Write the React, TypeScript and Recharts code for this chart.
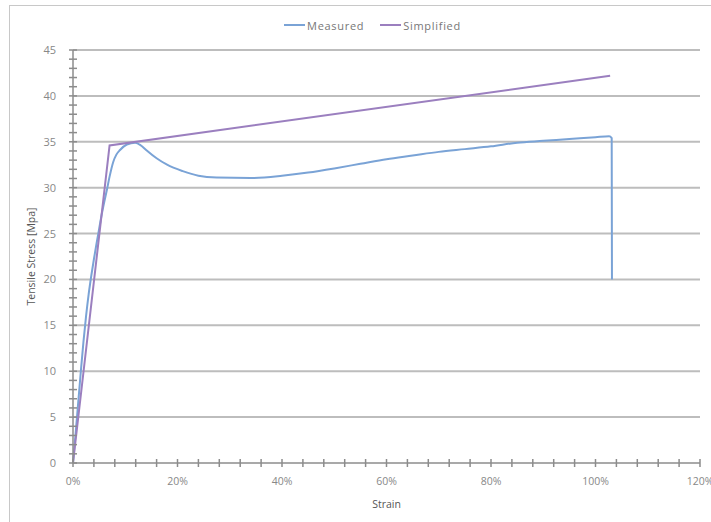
import { LineChart, Line, XAxis, YAxis, CartesianGrid, Legend, Label } from "recharts";

// strain in %, stress in MPa
const measuredStrain = [
  0, 0.5, 1.0, 1.5, 2.0, 2.5, 3.0, 3.5, 4.0, 4.5, 5.0, 5.5, 6.0, 6.5, 7.0, 7.7, 8.3, 9.0, 10.3, 11.9, 13.0, 14.0,
  16.0, 18.0, 21.0, 24.0, 27.5, 34, 40, 45, 50, 55, 60, 65, 70, 75, 80, 85, 90, 95, 100, 102.6, 103.1, 103.15,
];
const measuredStress = [
  0, 3.2, 6.6, 10.0, 13.2, 16.0, 18.4, 20.4, 22.2, 23.9, 25.5, 27.1, 28.5, 29.8, 31.2, 32.8, 33.6, 34.1, 34.7, 34.9,
  34.6, 34.1, 33.2, 32.5, 31.8, 31.3, 31.1, 31.05, 31.3, 31.65, 32.1, 32.6, 33.1, 33.5, 33.9, 34.2, 34.5, 34.9, 35.1,
  35.3, 35.5, 35.6, 35.4, 20,
];
const simplifiedStrain = [0, 7.0, 102.8];
const simplifiedStress = [0, 34.6, 42.2];

const xTicks = Array.from({ length: 31 }, (_, i) => i * 4);
const yTicks = Array.from({ length: 46 }, (_, i) => i);
const gridValues = [5, 10, 15, 20, 25, 30, 35, 40, 45];

const measured = measuredStrain.map((x, i) => ({ x, y: measuredStress[i] }));
const simplified = simplifiedStrain.map((x, i) => ({ x, y: simplifiedStress[i] }));

const FONT = "'Open Sans', 'Liberation Sans', sans-serif";
const BLUE = "#7aa3d6";
const PURPLE = "#9b7fbf";

function XTick(props: any) {
  const { x, y, payload } = props;
  const v = payload.value;
  return (
    <g>
      <line x1={x} x2={x} y1={y - 4} y2={y + 4} stroke="#8c8c8c" strokeWidth={1.5} />
      {v % 20 === 0 && (
        <text x={x} y={y + 22} textAnchor="middle" fill="#888" fontSize={10.5} fontFamily={FONT}>
          {v}%
        </text>
      )}
    </g>
  );
}

function YTick(props: any) {
  const { x, y, payload } = props;
  const v = payload.value;
  return (
    <g>
      <line x1={x - 4} x2={x + 4} y1={y} y2={y} stroke="#8c8c8c" strokeWidth={1.5} />
      {v % 5 === 0 && (
        <text x={x - 17} y={y + 4} textAnchor="end" fill="#888" fontSize={11} fontFamily={FONT}>
          {v}
        </text>
      )}
    </g>
  );
}

function LegendContent(props: any) {
  const items = props.payload || [];
  return (
    <div
      style={{
        height: 20,
        display: "flex",
        justifyContent: "center",
        alignItems: "center",
        gap: 16,
        paddingLeft: 34,
        fontFamily: FONT,
        fontSize: 11,
        letterSpacing: 0.7,
        color: "#777",
      }}
    >
      {items.map((it: any) => (
        <div key={it.value} style={{ display: "flex", alignItems: "center" }}>
          <svg width={21} height={4} style={{ marginRight: 2 }}>
            <line x1={0} x2={21} y1={2} y2={2} stroke={it.color} strokeWidth={2} />
          </svg>
          <span>{it.value}</span>
        </div>
      ))}
    </div>
  );
}

export default function App() {
  return (
    <div style={{ position: "absolute", left: 0, top: 0, width: 711, height: 522, overflow: "hidden", background: "#fff" }}>
      <div
        style={{
          position: "absolute",
          left: 9,
          top: 5,
          width: 740,
          height: 560,
          border: "1.5px solid #c8c8c8",
        }}
      />
      <LineChart width={711} height={522} margin={{ top: 30, right: 11, left: 10, bottom: 19 }}>
        <CartesianGrid vertical={false} horizontalValues={gridValues} stroke="#bdbdbd" strokeWidth={2} />
        <XAxis
          type="number"
          dataKey="x"
          domain={[0, 120]}
          ticks={xTicks}
          interval={0}
          tickSize={0}
          tickMargin={0}
          tick={<XTick />}
          height={40}
          stroke="#8c8c8c"
          strokeWidth={1.5}
          allowDuplicatedCategory={false}
        >
          <Label value="Strain" position="insideBottom" offset={-5} fill="#555" fontSize={10.5} fontFamily={FONT} />
        </XAxis>
        <YAxis
          type="number"
          dataKey="y"
          domain={[0, 45]}
          ticks={yTicks}
          interval={0}
          tickSize={0}
          tickMargin={0}
          tick={<YTick />}
          width={63}
          stroke="#8c8c8c"
          strokeWidth={1.5}
        >
          <Label
            value="Tensile Stress [Mpa]"
            angle={-90}
            position="insideLeft"
            offset={21}
            fill="#555"
            fontSize={10.5}
            fontFamily={FONT}
            style={{ textAnchor: "middle" }}
          />
        </YAxis>
        <Legend
          verticalAlign="top"
          align="center"
          content={<LegendContent />}
          wrapperStyle={{ left: 0, top: 15, width: 711 }}
        />
        <Line
          data={measured}
          dataKey="y"
          name="Measured"
          type="monotone"
          stroke={BLUE}
          strokeWidth={2}
          dot={false}
          isAnimationActive={false}
        />
        <Line
          data={simplified}
          dataKey="y"
          name="Simplified"
          type="linear"
          stroke={PURPLE}
          strokeWidth={2}
          dot={false}
          isAnimationActive={false}
        />
      </LineChart>
    </div>
  );
}
